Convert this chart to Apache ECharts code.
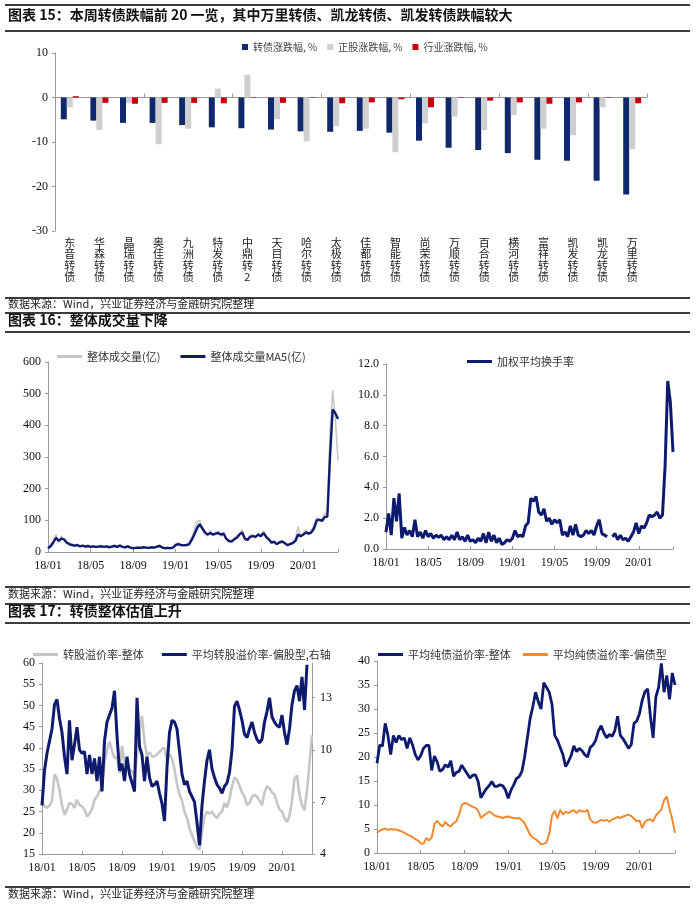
<!DOCTYPE html>
<html><head><meta charset="utf-8">
<script src="https://cdn.jsdelivr.net/npm/echarts/dist/echarts.min.js"></script>
<style>html,body{margin:0;padding:0;background:#fff}#c{width:700px;height:909px}</style>
</head><body><div id="c"></div>
<script>
// ---------- 图表15 ----------
const bondNames = ['东音转债','华森转债','晶瑞转债','奥佳转债','九洲转债','特发转债','中鼎转2','天目转债','哈尔转债','太极转债','佳都转债','智能转债','尚荣转债','万顺转债','百合转债','横河转债','富祥转债','凯发转债','凯龙转债','万里转债'];
const bondChg = [-4.9,-5.2,-5.7,-5.7,-6.2,-6.7,-6.9,-7.2,-7.6,-7.7,-7.5,-7.9,-9.7,-11.3,-11.8,-12.5,-14.0,-14.2,-18.7,-21.8];
const stockChg = [-2.2,-7.3,-1.2,-10.5,-7.0,2.0,5.1,-4.9,-9.9,-6.4,-7.0,-12.3,-5.8,-4.3,-7.3,-3.9,-7.0,-8.5,-2.2,-11.6];
const industryChg = [0.3,-1.2,-1.4,-1.2,-1.2,-1.3,0.1,-1.2,-0.1,-1.3,-1.1,-0.4,-2.2,-0.1,-0.7,-1.1,-1.4,-1.1,-0.1,-1.3];

// time series sampled every quarter month starting 2018-01
const STEP = 0.25; // months per sample
const monthTicks = ['18/01','18/05','18/09','19/01','19/05','19/09','20/01'];

// ---------- 图表16 ----------
const volRaw = [8,25,35,55,30,50,38,28, 22,26,18,24,16,22,15,21, 14,20,15,19,20,14,20,13, 19,22,14,23,15,13,20,12,
 10,15,16,11,17,12,11,17, 13,20,22,12,10,15,11,16, 26,30,20,24,20,28,45,70, 95,100,70,58,50,68,52,62,
 65,50,62,38,30,36,45,52, 60,70,38,42,52,56,44,60, 48,68,45,38,26,36,22,34, 36,25,20,28,32,42,80,48,
 62,70,55,68,85,110,98,105, 120,125,380,511,420,290];
const volMA5 = [12,18,30,45,35,42,40,30, 25,22,20,22,18,20,17,19, 16,18,16,17,18,16,18,15, 17,19,16,20,16,15,18,14,
 12,13,14,13,15,14,13,15, 14,17,19,14,12,13,12,14, 22,25,22,21,22,24,38,55, 75,88,75,62,55,60,55,58,
 60,55,58,42,35,33,40,45, 55,62,42,38,48,50,48,55, 50,60,48,40,30,32,25,30, 33,28,22,25,28,35,55,50,
 55,62,58,62,75,100,102,98, 110,112,300,450,438,420];
const turnover = [1.1,2.3,0.9,3.3,1.8,3.6,0.7,1.4, 0.9,1.2,0.8,1.9,0.8,1.1,0.7,1.2, 0.8,1.0,0.7,0.9,0.75,0.9,0.6,0.8,
 0.6,0.9,0.6,1.1,0.6,0.8,0.5,0.9, 0.5,0.6,0.4,0.7,0.5,1.0,0.4,1.1, 0.5,0.9,0.4,0.7,0.3,0.4,0.6,0.5,
 0.7,1.2,0.8,0.9,0.8,1.5,1.7,3.3, 3.1,3.4,2.4,2.2,2.6,1.8,2.0,1.6, 1.9,1.7,1.9,0.9,1.1,0.8,1.5,0.9,
 1.6,0.9,0.8,0.9,1.2,1.0,1.2,0.9, 1.5,1.9,1.0,0.9,0.8,null,0.8,1.0, 0.6,0.9,0.6,0.7,0.5,0.8,1.1,1.7,
 1.0,1.5,1.35,1.7,2.2,2.1,2.2,2.4, 2.0,2.2,5.4,10.9,9.5,6.3];

// ---------- 图表17 ----------
const convPremAll = [27.3,26.2,25.9,26.4,27.6,33.8,32.8,30.0, 26.5,24.2,25.5,27.0,26.8,25.8,27.8,26.5, 26.2,25.5,23.8,24.5,25.5,27.8,28.5,29.8,
 31.0,36.5,39.5,41.5,39.5,37.5,38.0,34.0, 40.5,36.5,36.0,35.0,34.5,33.5,38.0,43.8, 47.5,41.5,38.0,39.0,38.0,38.0,38.5,39.0,
 39.8,40.0,37.0,38.5,37.5,35.0,31.5,29.0, 27.5,25.0,23.5,21.0,19.5,18.0,16.5,16.0, 20.0,24.0,25.0,24.5,25.0,24.0,23.5,24.5,
 25.0,27.0,26.0,28.0,31.0,33.0,32.5,31.0, 29.5,28.5,26.5,27.0,28.5,29.0,28.5,27.5, 26.5,29.5,31.0,30.5,29.5,29.0,27.0,25.5,
 25.0,23.5,22.5,24.0,27.5,32.8,33.5,29.0, 26.5,25.3,30.0,36.5,43.0];
const convPremEq = [6.8,8.8,9.8,10.5,11.2,12.6,12.9,11.8, 11.0,9.6,8.6,11.7,9.4,10.3,11.3,10.0, 9.8,9.9,8.6,9.7,8.6,9.5,8.2,9.6,
 7.6,10.5,11.6,12.0,12.4,13.4,10.8,8.8, 9.2,8.2,9.6,8.6,8.1,7.6,13.0,10.2, 9.7,8.2,9.6,8.4,7.9,8.0,8.2,7.5,
 6.9,5.9,9.0,11.0,11.7,11.6,11.2,9.9, 8.6,8.0,8.2,7.6,7.3,7.0,5.8,4.5, 6.8,8.2,9.4,10.0,8.9,8.4,8.0,7.8,
 7.5,7.9,8.1,8.7,10.0,12.5,12.8,12.3, 11.7,10.9,10.7,11.2,11.6,11.0,10.6,10.4, 10.6,11.6,12.2,13.0,11.9,11.6,11.4,11.3,
 12.0,11.0,10.3,11.2,12.6,13.4,13.7,12.8, 14.2,12.3,14.9];
const bondPremAll = [18.7,22.5,22.3,27.0,24.5,20.5,24.5,23.0, 24.5,23.6,24.0,21.8,24.0,22.5,20.5,19.4, 20.3,21.8,22.4,22.4,17.2,20.2,19.0,17.0,
 17.4,18.4,17.9,19.2,16.0,16.8,17.0,18.3, 17.4,16.5,15.6,16.2,16.3,14.9,11.5,12.5, 13.4,14.0,14.9,13.9,13.9,14.2,14.0,13.1,
 11.4,13.1,14.2,15.5,15.9,17.0,20.0,24.0, 28.0,30.5,33.5,31.5,30.0,35.5,34.5,33.5, 31.0,24.5,23.5,22.0,20.5,18.0,19.0,20.3,
 22.3,21.1,21.8,21.3,20.5,20.0,22.0,22.5, 23.5,25.5,26.5,25.0,24.0,24.7,24.3,25.5, 28.5,24.5,23.8,22.8,21.8,22.6,27.0,27.5,
 29.0,31.8,33.6,34.2,28.5,24.0,32.5,34.5, 39.5,33.5,37.0,32.0,37.5,35.0];
const bondPremDebt = [4.2,4.7,4.9,5.1,4.8,5.0,4.9,4.9, 4.7,4.5,4.2,3.9,3.6,3.3,2.9,2.6, 2.0,1.9,3.1,2.6,3.2,6.0,6.7,6.0,
 5.5,6.5,5.8,5.5,6.2,6.6,8.0,10.0, 10.4,10.3,9.9,9.6,9.4,8.8,7.3,7.8, 8.2,8.6,8.3,7.8,7.6,7.5,7.3,7.5,
 7.6,7.4,7.3,7.2,7.3,6.8,6.2,5.0, 3.8,3.2,2.9,2.4,1.8,1.9,2.2,4.0, 7.8,8.8,7.2,9.0,8.0,8.6,8.3,8.7,
 8.9,8.3,8.9,8.7,8.6,9.0,7.0,6.4, 6.3,6.6,6.9,6.7,6.9,6.5,7.0,7.2, 7.5,7.3,7.6,7.8,8.0,7.7,7.2,6.6,
 6.8,5.2,6.5,6.9,7.0,6.6,7.8,8.4, 9.0,11.0,11.8,9.2,7.0,4.2];

const toXY = arr => arr.map((v, i) => [i * STEP, v]);

const NAVY = '#0d1a6e', BARNAVY = '#10286c', GRAY = '#c6c6c6', RED = '#c4000b', ORANGE = '#f08a30';
const SERIF = 'Liberation Serif';
const CJK = 'Noto Sans CJK SC';

function timeXAxis(grid, max) {
  return {
    type: 'value', gridIndex: grid, min: 0, max: max, interval: 4,
    axisLine: { show: true, onZero: false, lineStyle: { color: '#9a9a9a' } },
    axisTick: { show: true, inside: true, length: 3, lineStyle: { color: '#9a9a9a' } },
    splitLine: { show: false },
    axisLabel: { fontFamily: SERIF, fontSize: 12, color: '#111', margin: 8,
      formatter: v => (Math.abs(v % 4) < 1e-9 ? (monthTicks[Math.round(v / 4)] || '') : '') }
  };
}
function valYAxis(grid, min, max, interval, extra) {
  return Object.assign({
    type: 'value', gridIndex: grid, min: min, max: max, interval: interval,
    axisLine: { show: true, lineStyle: { color: '#9a9a9a' } },
    axisTick: { show: true, length: 3, lineStyle: { color: '#9a9a9a' } },
    splitLine: { show: false },
    axisLabel: { fontFamily: SERIF, fontSize: 12, color: '#111', margin: 7 }
  }, extra || {});
}

const hLines = [4, 30, 297, 312, 331, 586, 603, 622, 886];
const graphics = hLines.map(y => ({ type: 'rect', shape: { x: 5, y: y, width: 685, height: 2 }, style: { fill: '#3c3c3c' } }));
const titles = [
  ['图表 15：本周转债跌幅前 20 一览，其中万里转债、凯龙转债、凯发转债跌幅较大', 17],
  ['图表 16：整体成交量下降', 322],
  ['图表 17：转债整体估值上升', 613]
];
titles.forEach(t => graphics.push({ type: 'text', left: 8, top: t[1] - 9,
  style: { text: t[0], font: 'bold 14px "' + CJK + '"', fill: '#111' } }));
[305, 595, 895].forEach(y => graphics.push({ type: 'text', left: 8, top: y - 7,
  style: { text: '数据来源：Wind，兴业证券经济与金融研究院整理', font: '11px "' + CJK + '"', fill: '#222' } }));

const option = {
  animation: false,
  backgroundColor: '#fff',
  graphic: graphics,
  grid: [
    { left: 55, top: 53, width: 592, height: 178 },
    { left: 48, top: 362, width: 290, height: 190 },
    { left: 386, top: 364, width: 287, height: 185 },
    { left: 42, top: 663, width: 270, height: 191 },
    { left: 377, top: 661, width: 298, height: 192 }
  ],
  legend: [
    { data: ['转债涨跌幅, %', '正股涨跌幅, %', '行业涨跌幅, %'], left: 237, top: 37, icon: 'rect', itemWidth: 6, itemHeight: 6, itemGap: 10,
      textStyle: { fontFamily: CJK, fontSize: 10, color: '#444' } },
    { data: ['整体成交量(亿)', '整体成交量MA5(亿)'], left: 52, top: 346, icon: 'rect', itemWidth: 25, itemHeight: 3, itemGap: 20,
      textStyle: { fontFamily: CJK, fontSize: 11, color: '#333' } },
    { data: ['加权平均换手率'], left: 462, top: 351, icon: 'rect', itemWidth: 25, itemHeight: 3,
      textStyle: { fontFamily: CJK, fontSize: 11, color: '#333' } },
    { data: ['转股溢价率-整体', '平均转股溢价率-偏股型,右轴'], left: 28, top: 644, icon: 'rect', itemWidth: 25, itemHeight: 3, itemGap: 18,
      textStyle: { fontFamily: CJK, fontSize: 11, color: '#333' } },
    { data: ['平均纯债溢价率-整体', '平均纯债溢价率-偏债型'], left: 373, top: 644, icon: 'rect', itemWidth: 25, itemHeight: 3, itemGap: 12,
      textStyle: { fontFamily: CJK, fontSize: 11, color: '#333' } }
  ],
  xAxis: [
    { type: 'category', gridIndex: 0, data: bondNames, position: 'bottom',
      axisLine: { show: false, onZero: false }, axisTick: { show: false },
      axisLabel: { interval: 0, margin: 6, fontFamily: CJK, fontSize: 11, lineHeight: 11.5, color: '#222',
        formatter: s => s.split('').join('\n') } },
    { type: 'category', gridIndex: 0, data: bondNames, position: 'top',
      axisLine: { show: true, onZero: true, lineStyle: { color: '#9a9a9a' } },
      axisTick: { show: true, length: 4, lineStyle: { color: '#9a9a9a' } },
      axisLabel: { show: false } },
    timeXAxis(1, 27.25),
    timeXAxis(2, 27.25),
    timeXAxis(3, 27),
    timeXAxis(4, 27.25)
  ],
  yAxis: [
    valYAxis(0, -30, 10, 10),
    valYAxis(1, 0, 600, 100),
    valYAxis(2, 0, 12, 2, { axisLabel: { fontFamily: SERIF, fontSize: 12, color: '#111', margin: 7, formatter: v => v.toFixed(1) } }),
    valYAxis(3, 15, 60, 5),
    valYAxis(3, 4, 15, 3, { position: 'right', axisLabel: { fontFamily: SERIF, fontSize: 12, color: '#111', margin: 8, showMaxLabel: false } }),
    valYAxis(4, 0, 40, 5)
  ],
  series: [
    { name: '转债涨跌幅, %', type: 'bar', xAxisIndex: 0, yAxisIndex: 0, data: bondChg, barWidth: 6, barGap: '0%', itemStyle: { color: BARNAVY } },
    { name: '正股涨跌幅, %', type: 'bar', xAxisIndex: 0, yAxisIndex: 0, data: stockChg, barWidth: 6, barGap: '0%', itemStyle: { color: '#cfcfcf' } },
    { name: '行业涨跌幅, %', type: 'bar', xAxisIndex: 0, yAxisIndex: 0, data: industryChg, barWidth: 6, barGap: '0%', itemStyle: { color: RED } },

    { name: '整体成交量(亿)', type: 'line', xAxisIndex: 2, yAxisIndex: 1, data: toXY(volRaw), symbol: 'none',
      color: GRAY, lineStyle: { color: GRAY, width: 1.6 } },
    { name: '整体成交量MA5(亿)', type: 'line', xAxisIndex: 2, yAxisIndex: 1, data: toXY(volMA5), symbol: 'none',
      color: NAVY, lineStyle: { color: NAVY, width: 2.4 } },

    { name: '加权平均换手率', type: 'line', xAxisIndex: 3, yAxisIndex: 2, data: toXY(turnover), symbol: 'none', connectNulls: false,
      color: NAVY, lineStyle: { color: NAVY, width: 3 } },

    { name: '转股溢价率-整体', type: 'line', xAxisIndex: 4, yAxisIndex: 3, data: toXY(convPremAll), symbol: 'none',
      color: GRAY, lineStyle: { color: GRAY, width: 2.6 } },
    { name: '平均转股溢价率-偏股型,右轴', type: 'line', xAxisIndex: 4, yAxisIndex: 4, data: toXY(convPremEq), symbol: 'none',
      color: NAVY, lineStyle: { color: NAVY, width: 3 } },

    { name: '平均纯债溢价率-整体', type: 'line', xAxisIndex: 5, yAxisIndex: 5, data: toXY(bondPremAll), symbol: 'none',
      color: NAVY, lineStyle: { color: NAVY, width: 2.8 } },
    { name: '平均纯债溢价率-偏债型', type: 'line', xAxisIndex: 5, yAxisIndex: 5, data: toXY(bondPremDebt), symbol: 'none',
      color: ORANGE, lineStyle: { color: ORANGE, width: 2 } }
  ]
};
const chart = echarts.init(document.getElementById('c'), null, { renderer: 'canvas' });
chart.setOption(option);
</script></body></html>
